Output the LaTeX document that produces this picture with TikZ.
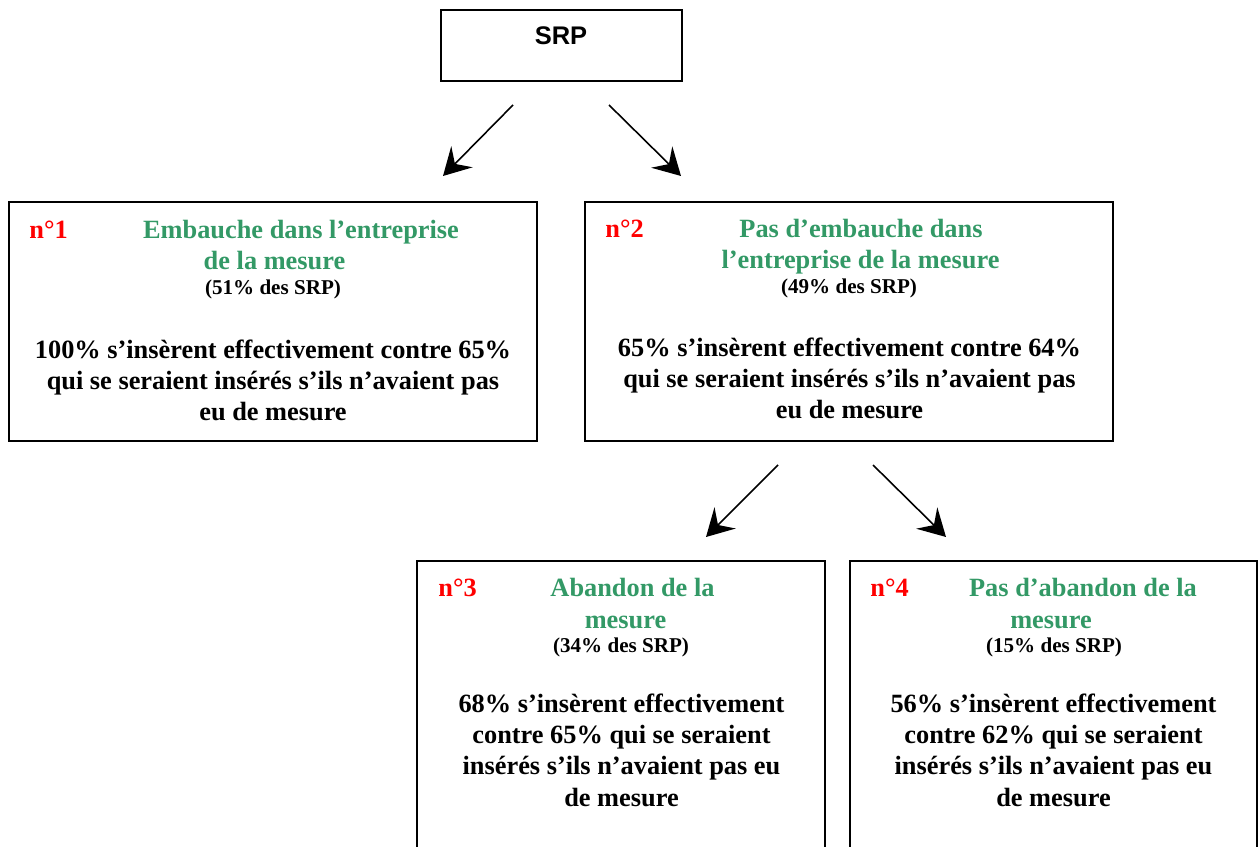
\documentclass[tikz,border=0pt]{standalone}
\usepackage{fontspec}
\setmainfont{Liberation Serif}
\newfontfamily\srpfont{Liberation Sans}
\usetikzlibrary{arrows.meta}

\definecolor{titlegreen}{HTML}{339966}
\definecolor{numred}{HTML}{FF0000}

\begin{document}
\begin{tikzpicture}[
    x=0.02cm, y=-0.02cm,
    boxline/.style={line width=1pt, black},
    arr/.style={-{Stealth[length=0.54cm, width=0.6cm, inset=0.2cm]}, line width=0.9pt},
    numlbl/.style={font=\fontsize{15}{17.75}\selectfont\bfseries, text=numred, anchor=base west, inner sep=0pt},
    titlelbl/.style={font=\fontsize{15}{17.75}\selectfont\bfseries, text=titlegreen, anchor=base, inner sep=0pt},
    sharelbl/.style={font=\fontsize{12}{14}\selectfont\bfseries, anchor=base, inner sep=0pt},
    bodytxt/.style={font=\fontsize{15}{17.75}\selectfont\bfseries, align=center, anchor=base, inner sep=0pt},
]
\useasboundingbox (0,0) rectangle (1258,847);
\clip (0,0) rectangle (1258,847);

% Top box
\draw[boxline] (441,10) rectangle (682,81);
\node[font=\srpfont\bfseries\fontsize{14.5}{17}\selectfont, anchor=base, inner sep=0pt] (srp) at (561,45) {SRP};

% Arrows from SRP
\coordinate (a1s) at (513,105);
\coordinate (a1e) at (443,176);
\coordinate (a2s) at (609,105);
\coordinate (a2e) at (681,176);
\draw[arr] (a1s) -- (a1e);
\draw[arr] (a2s) -- (a2e);

% Box n°1 (body node sits on its last line)
\draw[boxline] (9,202) rectangle (537,441);
\node[numlbl] (n1) at (29,238.5) {n°1};
\node[titlelbl] (t1a) at (301,238.5) {Embauche dans l’entreprise};
\node[titlelbl] (t1b) at (274.5,270) {de la mesure};
\node[sharelbl] (s1) at (273,295) {(51\% des SRP)};
\node[bodytxt] (b1) at (273,421)
    {100\% s’insèrent effectivement contre 65\%\\qui se seraient insérés s’ils n’avaient pas\\eu de mesure};

% Box n°2
\draw[boxline] (585,202) rectangle (1113,441);
\node[numlbl] (n2) at (605,238) {n°2};
\node[titlelbl] (t2a) at (861,238) {Pas d’embauche dans};
\node[titlelbl] (t2b) at (860.5,268.5) {l’entreprise de la mesure};
\node[sharelbl] (s2) at (849,293.5) {(49\% des SRP)};
\node[bodytxt] (b2) at (849.5,419)
    {65\% s’insèrent effectivement contre 64\%\\qui se seraient insérés s’ils n’avaient pas\\eu de mesure};

% Arrows from n°2
\coordinate (a3s) at (778,465);
\coordinate (a3e) at (706,537);
\coordinate (a4s) at (873,465);
\coordinate (a4e) at (946,537);
\draw[arr] (a3s) -- (a3e);
\draw[arr] (a4s) -- (a4e);

% Box n°3
\draw[boxline] (417,561) rectangle (825,880);
\node[numlbl] (n3) at (438,597) {n°3};
\node[titlelbl] (t3a) at (632.5,597) {Abandon de la};
\node[titlelbl] (t3b) at (625.5,628) {mesure};
\node[sharelbl] (s3) at (621,652) {(34\% des SRP)};
\node[bodytxt] (b3) at (621.5,806)
    {68\% s’insèrent effectivement\\contre 65\% qui se seraient\\insérés s’ils n’avaient pas eu\\de mesure};

% Box n°4
\draw[boxline] (850,561) rectangle (1257,880);
\node[numlbl] (n4) at (870,597) {n°4};
\node[titlelbl] (t4a) at (1083,597) {Pas d’abandon de la};
\node[titlelbl] (t4b) at (1051,628) {mesure};
\node[sharelbl] (s4) at (1054,652) {(15\% des SRP)};
\node[bodytxt] (b4) at (1053.5,806)
    {56\% s’insèrent effectivement\\contre 62\% qui se seraient\\insérés s’ils n’avaient pas eu\\de mesure};

\end{tikzpicture}
\end{document}
